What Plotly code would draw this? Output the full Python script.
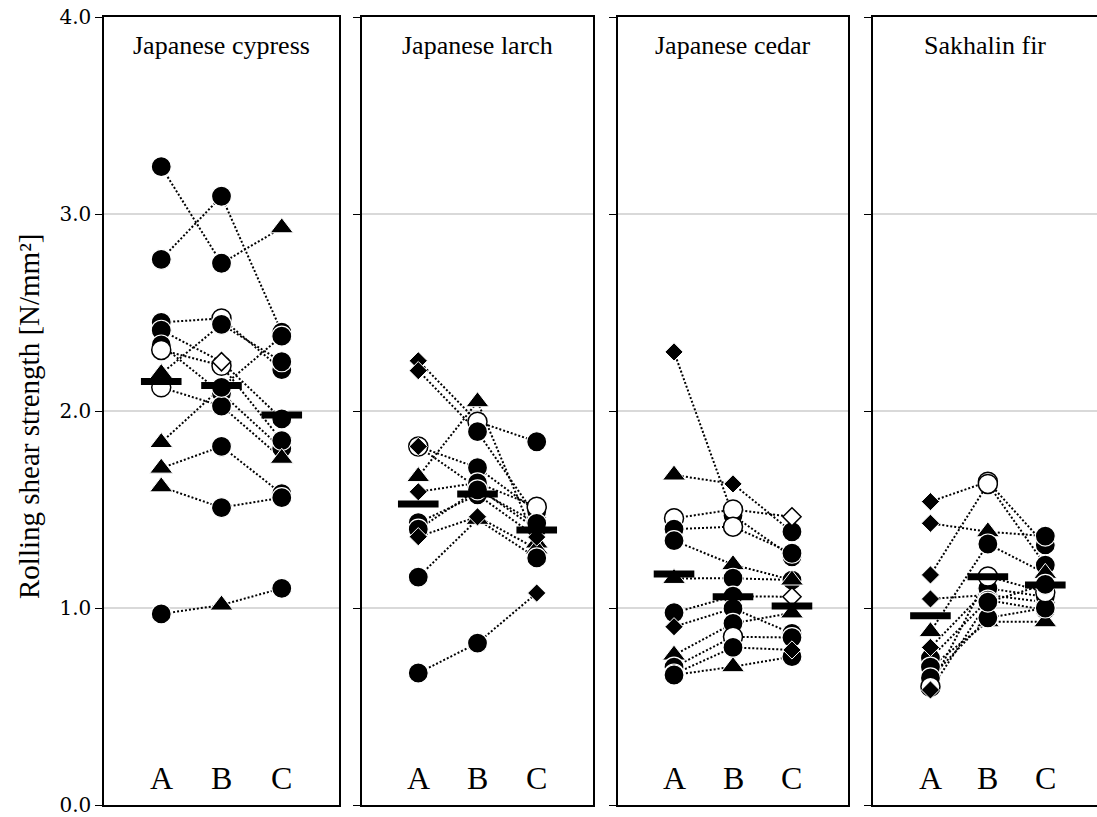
import plotly.graph_objects as go

# ---------------- data ----------------
panels = ["Japanese cypress", "Japanese larch", "Japanese cedar", "Sakhalin fir"]
conditions = ["A", "B", "C"]
y_ticks = [0.0, 1.0, 2.0, 3.0, 4.0]

# symbol categories: "fc" filled circle, "oc" open circle, "ft" filled triangle,
# "fd" filled diamond, "od" open diamond
cypress_A = [3.24, 2.77, 2.45, 2.41, 2.335, 2.31, 2.19, 2.12, 1.84, 1.71, 1.615, 0.97]
cypress_B = [2.75, 3.09, 2.47, 2.25, 2.09, 2.23, 2.44, 2.025, 2.12, 1.82, 1.51, 1.015]
cypress_C = [2.93, 2.40, 2.21, 1.96, 1.81, 1.85, 2.25, 1.76, 2.38, 1.58, 1.56, 1.10]
cypress_sA = ["fc", "fc", "fc", "fc", "fc", "oc", "ft", "oc", "ft", "ft", "ft", "fc"]
cypress_sB = ["fc", "fc", "oc", "od", "fc", "oc", "fc", "fc", "fc", "fc", "fc", "ft"]
cypress_sC = ["ft", "fc", "fc", "fc", "fc", "fc", "fc", "ft", "fc", "fc", "fc", "fc"]
cypress_mean = [2.15, 2.13, 1.98]

larch_A = [2.255, 2.205, 1.82, 1.82, 1.667, 1.59, 1.433, 1.40, 1.362, 1.157, 0.67]
larch_B = [1.946, 1.895, 1.712, 1.61, 2.047, 1.635, 1.575, 1.60, 1.463, 1.45, 0.822]
larch_C = [1.844, 1.46, 1.49, 1.40, 1.33, 1.514, 1.36, 1.43, 1.30, 1.254, 1.076]
larch_sA = ["fd", "fd", "oc", "fd", "ft", "fd", "fc", "fc", "fd", "fc", "fc"]
larch_sB = ["oc", "fc", "fc", "oc", "ft", "fc", "fc", "fc", "fd", "ft", "fc"]
larch_sC = ["fc", "fc", "fc", "fc", "ft", "oc", "fd", "fc", "ft", "fc", "fd"]
larch_mean = [1.528, 1.579, 1.396]

cedar_A = [2.30, 1.675, 1.455, 1.40, 1.342, 1.15, 0.976, 0.905, 0.761, 0.70, 0.665, 0.66]
cedar_B = [1.47, 1.63, 1.50, 1.413, 1.22, 1.151, 1.06, 0.998, 0.922, 0.854, 0.80, 0.702]
cedar_C = [1.26, 1.387, 1.463, 1.278, 1.142, 1.142, 1.057, 0.871, 0.975, 0.85, 0.787, 0.753]
cedar_sA = ["fd", "ft", "oc", "fc", "fc", "ft", "fc", "fd", "ft", "fc", "fc", "fc"]
cedar_sB = ["fc", "fd", "oc", "oc", "ft", "fc", "fc", "fc", "fc", "oc", "fc", "ft"]
cedar_sC = ["fc", "fc", "od", "fc", "fc", "ft", "od", "fc", "ft", "fc", "fd", "fc"]
cedar_mean = [1.173, 1.057, 1.01]

fir_A = [1.54, 1.43, 1.168, 1.046, 0.88, 0.80, 0.746, 0.70, 0.645, 0.60, 0.584]
fir_B = [1.641, 1.387, 1.63, 1.066, 1.325, 1.10, 1.04, 0.93, 0.95, 1.16, 1.03]
fir_C = [1.32, 1.365, 1.218, 1.03, 1.176, 1.057, 0.99, 0.93, 1.00, 1.08, 1.12]
fir_sA = ["fd", "fd", "fd", "fd", "ft", "fd", "fc", "fc", "fc", "oc", "fd"]
fir_sB = ["oc", "ft", "oc", "fc", "fc", "fc", "fc", "ft", "fc", "oc", "fc"]
fir_sC = ["fc", "fc", "fc", "fc", "ft", "fc", "fc", "ft", "fc", "oc", "fc"]
fir_mean = [0.961, 1.159, 1.117]

panel_data = [
    (cypress_A, cypress_B, cypress_C, cypress_sA, cypress_sB, cypress_sC, cypress_mean),
    (larch_A, larch_B, larch_C, larch_sA, larch_sB, larch_sC, larch_mean),
    (cedar_A, cedar_B, cedar_C, cedar_sA, cedar_sB, cedar_sC, cedar_mean),
    (fir_A, fir_B, fir_C, fir_sA, fir_sB, fir_sC, fir_mean),
]

# ---------------- styles ----------------
STYLE = {
    "fc": dict(symbol="circle", fill="black", edge="white", size=20, lw=1.2, z=0),
    "oc": dict(symbol="circle", fill="white", edge="black", size=19, lw=1.5, z=0),
    "ft": dict(symbol="triangle-up", fill="black", edge="white", size=20, lw=1.0, z=0),
    "fd": dict(symbol="diamond", fill="black", edge="white", size=14, lw=1.0, z=1),
    "od": dict(symbol="diamond", fill="white", edge="black", size=14, lw=1.5, z=1),
}
SERIF = "Liberation Serif"
W, H = 1097, 817
ML, MR, MT, MB = 104, 0, 17, 12
px_domains = [(104, 339), (362, 593), (618, 848), (873, 1097)]
x_ranges = [[-0.95, 2.95], [-0.95, 2.95], [-0.95, 2.95], [-1.0, 2.9]]
plot_w = W - ML - MR
plot_h = H - MT - MB

fig = go.Figure()

for i, (vA, vB, vC, sA, sB, sC, means) in enumerate(panel_data):
    ax = "" if i == 0 else str(i + 1)
    xr, yr = "x" + ax, "y" + ax
    # connecting dotted lines
    for a, b, c in zip(vA, vB, vC):
        fig.add_trace(go.Scatter(
            x=conditions, y=[a, b, c], xaxis=xr, yaxis=yr, mode="lines",
            line=dict(color="black", width=2, dash="2px,2px"),
            hoverinfo="skip", showlegend=False))
    # markers (diamonds drawn on top)
    pts = []
    for cond, vals, ss in zip(conditions, (vA, vB, vC), (sA, sB, sC)):
        for v, s in zip(vals, ss):
            pts.append((cond, v, s))
    pts.sort(key=lambda p: STYLE[p[2]]["z"])
    fig.add_trace(go.Scatter(
        x=[p[0] for p in pts], y=[p[1] for p in pts], xaxis=xr, yaxis=yr,
        mode="markers", showlegend=False,
        marker=dict(
            opacity=1,
            symbol=[STYLE[p[2]]["symbol"] for p in pts],
            color=[STYLE[p[2]]["fill"] for p in pts],
            size=[STYLE[p[2]]["size"] for p in pts],
            line=dict(color=[STYLE[p[2]]["edge"] for p in pts],
                      width=[STYLE[p[2]]["lw"] for p in pts]))))
    # mean bars
    fig.add_trace(go.Scatter(
        x=conditions, y=means, xaxis=xr, yaxis=yr, mode="markers",
        showlegend=False,
        marker=dict(symbol="line-ew", size=29, color="black", opacity=1,
                    line=dict(color="black", width=7))))

    d0, d1 = px_domains[i]
    fig.layout["xaxis" + ax] = dict(
        domain=[(d0 - ML) / plot_w, (d1 - ML) / plot_w], range=x_ranges[i],
        anchor=yr, showgrid=False, zeroline=False,
        showline=True, mirror=True, linecolor="black", linewidth=1.5,
        ticks="", showticklabels=False,
        categoryorder="array", categoryarray=conditions, fixedrange=True)
    fig.layout["yaxis" + ax] = dict(
        anchor=xr, range=[0, 4], tickvals=y_ticks, tickformat=".1f",
        showticklabels=(i == 0), ticks="outside", ticklen=7,
        tickcolor="black", tickwidth=1.2, ticklabeloverflow="allow",
        showgrid=True, gridcolor="#d9d9d9", gridwidth=1.5, zeroline=False,
        showline=True, mirror=(i < 3), linecolor="black", linewidth=1.5,
        tickfont=dict(family="DejaVu Serif", size=20, color="black"),
        fixedrange=True)
    # panel title
    fig.add_annotation(
        text=panels[i], xref=xr + " domain", x=0.5, yref="paper",
        y=(H - MB - 45) / plot_h, yanchor="middle", showarrow=False,
        font=dict(family=SERIF, size=26, color="black"))
    # condition labels inside the panel
    for cond in conditions:
        fig.add_annotation(
            text=cond, xref=xr, x=cond, yref="paper",
            y=(H - MB - 778) / plot_h, yanchor="middle", showarrow=False,
            font=dict(family=SERIF, size=32, color="black"))

fig.add_annotation(
    text="Rolling shear strength [N/mm²]", textangle=-90,
    xref="paper", x=(29 - ML) / plot_w, xanchor="center",
    yref="paper", y=(H - MB - 416) / plot_h, yanchor="middle",
    showarrow=False, font=dict(family=SERIF, size=29, color="black"))

fig.update_layout(
    width=W, height=H, margin=dict(l=ML, r=MR, t=MT, b=MB),
    paper_bgcolor="white", plot_bgcolor="white", showlegend=False)

fig.write_html(
    "out.html",
    config={"displayModeBar": False},
    post_script="document.body.style.margin='0px';"
                "document.body.style.overflow='hidden';")
